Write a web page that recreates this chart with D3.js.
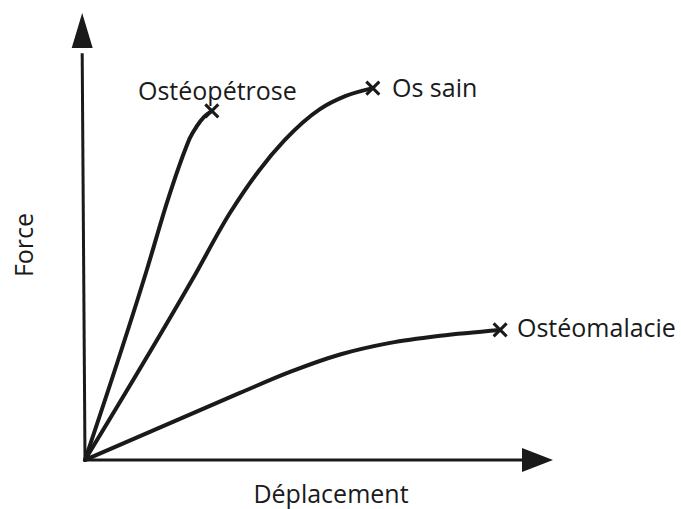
<!DOCTYPE html>
<html>
<head>
<meta charset="utf-8">
<script src="https://cdn.jsdelivr.net/npm/d3@7"></script>
<style>
  body { margin: 0; background: #fff; }
  text { font-family: "Open Sans", sans-serif; fill: #1a1a1a; }
</style>
</head>
<body>
<script>
let width = 681, height = 509

// curves: [deplacement, force] in arbitrary units (0..100)
let osteopetrose = [[0, 0], [13.2, 42.5], [17.7, 58.2], [21.4, 69.4], [22.4, 72.0], [23.9, 74.7], [25.4, 76.7], [27.1, 78.1]]
let osSain = [[0, 0], [22.9, 40.3], [31.0, 55.3], [37.0, 64.5], [42.7, 71.6], [50.2, 78.5], [55.6, 81.4], [61.5, 83.2]]
let osteomalacie = [[0, 0], [33.1, 15.0], [43.8, 19.7], [54.5, 23.6], [65.2, 26.2], [75.9, 27.8], [88.7, 29.1]]

let seriesNames = ["Ostéopétrose", "Os sain", "Ostéomalacie"]
let seriesData = [osteopetrose, osSain, osteomalacie]
let xLabel = "Déplacement"
let yLabel = "Force"

let svg = d3.select("body")
    .append("svg")
    .attr("width", width)
    .attr("height", height)

let x = d3.scaleLinear().domain([0, 100]).range([85, 553])
let y = d3.scaleLinear().domain([0, 100]).range([460, 13])

let ink = "#1a1a1a"

// axes
svg.append("line")
    .attr("x1", x(0)).attr("y1", y(0))
    .attr("x2", x(-0.6)).attr("y2", y(91))
    .attr("stroke", ink).attr("stroke-width", 3)
svg.append("line")
    .attr("x1", x(0)).attr("y1", y(0))
    .attr("x2", x(95)).attr("y2", y(0))
    .attr("stroke", ink).attr("stroke-width", 3)

// arrow heads
let tipY = [x(-0.6), y(100)]
svg.append("path")
    .attr("d", `M${tipY[0]},${tipY[1]} L${tipY[0] - 10.5},${tipY[1] + 35} L${tipY[0] + 10.5},${tipY[1] + 35} Z`)
    .attr("fill", ink)
let tipX = [x(100), y(0)]
svg.append("path")
    .attr("d", `M${tipX[0]},${tipX[1]} L${tipX[0] - 31},${tipX[1] - 12} L${tipX[0] - 31},${tipX[1] + 12} Z`)
    .attr("fill", ink)

let line = d3.line()
    .x(d => x(d[0]))
    .y(d => y(d[1]))
    .curve(d3.curveMonotoneX)

svg.selectAll("path.curve")
    .data(seriesData)
    .enter()
    .append("path")
    .attr("class", "curve")
    .attr("d", line)
    .attr("fill", "none")
    .attr("stroke", ink)
    .attr("stroke-width", 4)
    .attr("stroke-linecap", "round")

// x markers at rupture
let s = 6.5
seriesData.forEach(d => {
    let p = d[d.length - 1]
    let cx = x(p[0]), cy = y(p[1])
    svg.append("path")
        .attr("d", `M${cx - s},${cy - s} L${cx + s},${cy + s} M${cx - s},${cy + s} L${cx + s},${cy - s}`)
        .attr("stroke", ink)
        .attr("stroke-width", 3)
})

// labels
let labelPos = [[138, 100], [392, 97], [517, 337]]
seriesNames.forEach((name, i) => {
    svg.append("text")
        .attr("x", labelPos[i][0])
        .attr("y", labelPos[i][1])
        .attr("font-size", 25)
        .text(name)
})

svg.append("text")
    .attr("x", 331)
    .attr("y", 503)
    .attr("text-anchor", "middle")
    .attr("font-size", 25)
    .text(xLabel)

svg.append("text")
    .attr("transform", "translate(33,245) rotate(-90)")
    .attr("text-anchor", "middle")
    .attr("font-size", 25)
    .text(yLabel)
</script>
</body>
</html>
